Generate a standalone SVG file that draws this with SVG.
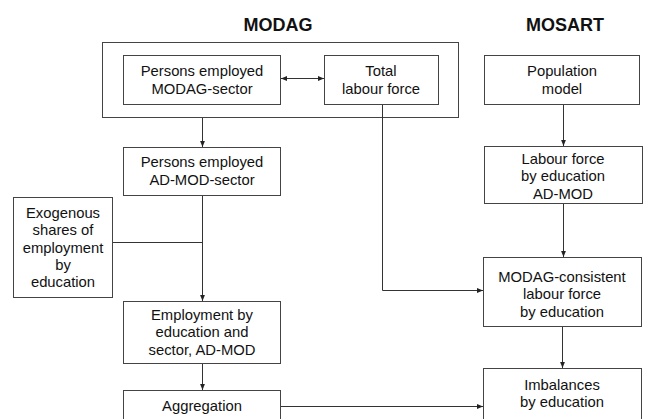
<svg xmlns="http://www.w3.org/2000/svg" width="647" height="419" viewBox="0 0 647 419">
<style>
.b{fill:#fff;stroke:#444;stroke-width:1}
.t{font-family:"Liberation Sans",Arial,sans-serif;font-size:14.8px;fill:#111;text-anchor:middle}
.h{font-family:"Liberation Sans",Arial,sans-serif;font-size:18px;font-weight:bold;fill:#111;text-anchor:middle}
.c{fill:none;stroke:#333;stroke-width:1}
</style>
<defs>
<marker id="a" viewBox="0 0 10 10" refX="10" refY="5" markerWidth="6" markerHeight="6" orient="auto"><path d="M0,1L10,5L0,9z" fill="#222"/></marker>
<marker id="s" viewBox="0 0 10 10" refX="0" refY="5" markerWidth="6" markerHeight="6" orient="auto"><path d="M10,1L0,5L10,9z" fill="#222"/></marker>
</defs>
<rect width="647" height="419" fill="#fff"/>
<text class="h" x="278" y="31">MODAG</text>
<text class="h" x="565" y="31">MOSART</text>
<g id="modag-group"><rect class="b" x="102.5" y="42.5" width="356" height="75"/></g>
<g id="n1"><rect class="b" x="123.5" y="55.5" width="157" height="49"/><text class="t" x="202" y="76">Persons employed</text><text class="t" x="202" y="94">MODAG-sector</text></g>
<g id="n2"><rect class="b" x="324.5" y="55.5" width="114" height="49"/><text class="t" x="381" y="76">Total</text><text class="t" x="381" y="94">labour force</text></g>
<g id="n3"><rect class="b" x="123.5" y="147.5" width="157" height="48"/><text class="t" x="202" y="167">Persons employed</text><text class="t" x="202" y="185">AD-MOD-sector</text></g>
<g id="n4"><rect class="b" x="13.5" y="197.5" width="99" height="100"/><text class="t" x="63" y="218">Exogenous</text><text class="t" x="63" y="235.3">shares of</text><text class="t" x="63" y="252.6">employment</text><text class="t" x="63" y="269.9">by</text><text class="t" x="63" y="287.2">education</text></g>
<g id="n5"><rect class="b" x="123.5" y="301.5" width="157" height="62"/><text class="t" x="202" y="320">Employment by</text><text class="t" x="202" y="337.3">education and</text><text class="t" x="202" y="354.6">sector, AD-MOD</text></g>
<g id="n6"><rect class="b" x="123.5" y="390.5" width="157" height="40"/><text class="t" x="202" y="411">Aggregation</text></g>
<g id="n7"><rect class="b" x="484.5" y="55.5" width="155" height="49"/><text class="t" x="562" y="76">Population</text><text class="t" x="562" y="94">model</text></g>
<g id="n8"><rect class="b" x="484.5" y="146.5" width="158" height="57"/><text class="t" x="563" y="164">Labour force</text><text class="t" x="563" y="181.3">by education</text><text class="t" x="563" y="198.6">AD-MOD</text></g>
<g id="n9"><rect class="b" x="483.5" y="257.5" width="158" height="69"/><text class="t" x="562" y="282">MODAG-consistent</text><text class="t" x="562" y="299.3">labour force</text><text class="t" x="562" y="316.6">by education</text></g>
<g id="n10"><rect class="b" x="483.5" y="368.5" width="158" height="60"/><text class="t" x="562" y="390">Imbalances</text><text class="t" x="562" y="407.3">by education</text></g>
<g id="connectors">
<path class="c" d="M281,78.5H324" marker-start="url(#s)" marker-end="url(#a)"/>
<path class="c" d="M202.5,118V147" marker-end="url(#a)"/>
<path class="c" d="M382.5,105V290.5H483" marker-end="url(#a)"/>
<path class="c" d="M113,242.5H202.5"/>
<path class="c" d="M202.5,196V301" marker-end="url(#a)"/>
<path class="c" d="M202.5,364V390" marker-end="url(#a)"/>
<path class="c" d="M281,406.5H483" marker-end="url(#a)"/>
<path class="c" d="M563.5,105V146" marker-end="url(#a)"/>
<path class="c" d="M563.5,204V257" marker-end="url(#a)"/>
<path class="c" d="M562.5,327V368" marker-end="url(#a)"/>
</g>
</svg>
